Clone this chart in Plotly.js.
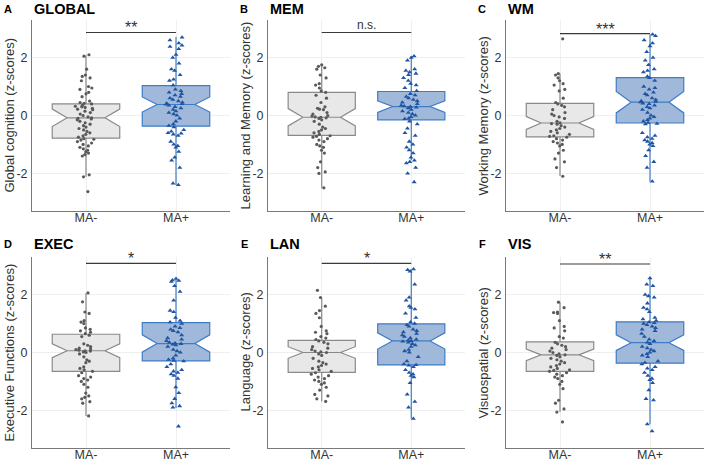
<!DOCTYPE html>
<html>
<head>
<meta charset="utf-8">
<script src="https://cdn.plot.ly/plotly-3.0.1.min.js"></script>
<style>html,body{margin:0;padding:0;background:#fff;}#chart{width:708px;height:463px;}</style>
</head>
<body>
<div id="chart"></div>
<script>
// ---------- DATA ----------
const groups = ['MA-', 'MA+'];
const panelLetters = ['A', 'B', 'C', 'D', 'E', 'F'];
const panelNames = ['GLOBAL', 'MEM', 'WM', 'EXEC', 'LAN', 'VIS'];
const yTitles = ['Global cognition (z-scores)', 'Learning and Memory (z-scores)', 'Working Memory (z-scores)',
                 'Executive Functions (z-scores)', 'Language (z-scores)', 'Visuospatial (z-scores)'];
const sigLabels = ['**', 'n.s.', '***', '*', '*', '**'];
const sigY = [2.87, 2.87, 2.83, 3.08, 3.08, 3.06];
const yTickVals = [-2, 0, 2];
const yTickText = ['-2', '0', '2'];

// box statistics, MA- group (per panel A..F)
const q1Neg      = [-0.78, -0.69, -0.74, -0.65, -0.69, -0.65];
const medianNeg  = [-0.08, -0.06, -0.26,  0.06,  0.00, -0.08];
const q3Neg      = [ 0.40,  0.80,  0.42,  0.63,  0.42,  0.37];
const lowNeg     = [-2.12, -2.51, -2.09, -2.19, -1.69, -2.06];
const highNeg    = [ 2.08,  1.77,  1.45,  2.06,  1.89,  1.74];
const notchNeg   = [ 0.30,  0.30,  0.22,  0.24,  0.20,  0.20];
// box statistics, MA+ group
const q1Pos      = [-0.37, -0.15, -0.26, -0.29, -0.43, -0.37];
const medianPos  = [ 0.38,  0.31,  0.46,  0.31,  0.40,  0.34];
const q3Pos      = [ 1.03,  0.83,  1.31,  1.03,  0.99,  1.06];
const lowPos     = [-2.40, -1.54, -2.29, -1.92, -2.29, -2.48];
const highPos    = [ 2.71,  2.06,  2.80,  2.51,  2.88,  2.57];
const notchPos   = [ 0.26,  0.20,  0.37,  0.30,  0.28,  0.27];

// individual z-scores
const globalNeg = [2.1, 2.05, 1.6, 1.4, 1.35, 1.3, 1.2, 1.0, 0.95, 0.9, 0.8, 0.75, 0.65, 0.5, 0.45, 0.42, 0.4, 0.35, 0.32, 0.3, 0.28, 0.25, 0.22, 0.2, 0.15, 0.1, 0.05, 0.0, -0.05, -0.08, -0.1, -0.12, -0.15, -0.2, -0.25, -0.3, -0.35, -0.4, -0.45, -0.5, -0.55, -0.6, -0.65, -0.7, -0.75, -0.8, -0.82, -0.85, -0.9, -0.95, -1.0, -1.05, -1.1, -1.15, -1.2, -1.25, -1.3, -1.35, -1.4, -2.05, -2.12, -2.63];
const globalPos = [2.7, 2.6, 2.5, 2.42, 2.38, 2.3, 2.1, 2.0, 1.8, 1.6, 1.55, 1.4, 1.25, 1.2, 1.05, 0.9, 0.85, 0.8, 0.75, 0.7, 0.65, 0.6, 0.55, 0.5, 0.45, 0.42, 0.4, 0.38, 0.35, 0.3, 0.25, 0.2, 0.15, 0.1, 0.05, 0.0, -0.1, -0.2, -0.3, -0.35, -0.4, -0.5, -0.55, -0.6, -0.62, -0.65, -0.7, -0.9, -1.0, -1.05, -1.1, -1.25, -1.45, -1.55, -1.8, -2.35, -2.4];
const memNeg = [1.75, 1.7, 1.65, 1.6, 1.4, 1.3, 1.1, 1.05, 0.95, 0.85, 0.8, 0.7, 0.6, 0.45, 0.3, 0.25, 0.22, 0.2, 0.1, 0.05, 0.0, -0.02, -0.05, -0.06, -0.08, -0.1, -0.15, -0.2, -0.3, -0.4, -0.45, -0.5, -0.55, -0.6, -0.65, -0.7, -0.72, -0.75, -0.8, -0.85, -0.9, -1.0, -1.05, -1.1, -1.2, -1.3, -1.6, -1.8, -1.95, -2.0, -2.5];
const memPos = [2.05, 2.0, 1.9, 1.6, 1.55, 1.5, 1.45, 1.4, 1.3, 1.2, 1.1, 1.05, 0.95, 0.85, 0.75, 0.7, 0.65, 0.6, 0.55, 0.5, 0.45, 0.4, 0.35, 0.32, 0.3, 0.28, 0.25, 0.2, 0.15, 0.1, 0.05, 0.0, -0.05, -0.1, -0.12, -0.2, -0.3, -0.45, -0.6, -0.7, -0.9, -1.0, -1.1, -1.2, -1.3, -1.45, -1.55, -1.6, -1.65, -1.8, -2.0, -2.3];
const wmNeg = [2.65, 1.45, 1.4, 1.3, 1.2, 1.1, 1.05, 0.9, 0.85, 0.6, 0.45, 0.4, 0.35, 0.3, 0.2, 0.1, 0.05, 0.0, -0.05, -0.1, -0.2, -0.25, -0.28, -0.3, -0.35, -0.4, -0.45, -0.5, -0.55, -0.6, -0.65, -0.7, -0.72, -0.75, -0.8, -0.85, -0.9, -0.95, -1.0, -1.05, -1.2, -1.3, -1.5, -1.6, -1.8, -2.1];
const wmPos = [2.8, 2.75, 2.6, 2.5, 2.4, 2.2, 2.0, 1.9, 1.75, 1.6, 1.55, 1.5, 1.35, 1.3, 1.2, 1.0, 0.95, 0.9, 0.8, 0.75, 0.7, 0.6, 0.55, 0.5, 0.48, 0.46, 0.42, 0.4, 0.35, 0.3, 0.25, 0.2, 0.1, 0.0, -0.05, -0.1, -0.15, -0.2, -0.25, -0.28, -0.3, -0.6, -0.7, -0.75, -0.8, -0.85, -0.9, -0.95, -1.0, -1.05, -1.2, -1.4, -1.6, -1.8, -2.28];
const execNeg = [2.06, 1.75, 1.4, 1.35, 1.1, 1.05, 1.0, 0.85, 0.8, 0.75, 0.7, 0.65, 0.6, 0.55, 0.3, 0.25, 0.2, 0.15, 0.12, 0.1, 0.08, 0.06, 0.05, 0.02, 0.0, -0.05, -0.15, -0.25, -0.3, -0.35, -0.5, -0.55, -0.6, -0.65, -0.7, -0.8, -0.85, -0.9, -0.95, -1.0, -1.1, -1.2, -1.4, -1.5, -1.55, -1.6, -1.7, -1.75, -2.19];
const execPos = [2.55, 2.5, 2.48, 2.45, 2.3, 2.1, 1.8, 1.45, 1.4, 1.2, 1.1, 1.05, 1.0, 0.9, 0.85, 0.8, 0.75, 0.7, 0.6, 0.5, 0.45, 0.4, 0.35, 0.32, 0.3, 0.28, 0.25, 0.2, 0.1, 0.05, 0.0, -0.1, -0.2, -0.25, -0.28, -0.3, -0.4, -0.5, -0.6, -0.65, -0.7, -0.75, -0.8, -0.9, -1.2, -1.4, -1.6, -1.75, -1.85, -1.9, -2.55];
const lanNeg = [2.15, 1.9, 1.6, 1.45, 1.35, 1.2, 0.9, 0.75, 0.7, 0.65, 0.55, 0.5, 0.45, 0.4, 0.35, 0.3, 0.2, 0.15, 0.1, 0.05, 0.02, 0.0, -0.05, -0.1, -0.2, -0.3, -0.35, -0.4, -0.45, -0.5, -0.55, -0.6, -0.65, -0.7, -0.75, -0.8, -0.85, -0.9, -0.95, -1.0, -1.05, -1.1, -1.2, -1.3, -1.45, -1.5, -1.6, -1.69];
const lanPos = [2.88, 2.85, 2.8, 2.35, 1.9, 1.8, 1.6, 1.55, 1.5, 1.35, 1.2, 1.05, 1.0, 0.95, 0.9, 0.8, 0.75, 0.7, 0.65, 0.6, 0.55, 0.5, 0.45, 0.42, 0.4, 0.38, 0.35, 0.3, 0.25, 0.2, 0.1, 0.05, 0.0, -0.15, -0.3, -0.4, -0.43, -0.45, -0.5, -0.6, -0.7, -0.75, -0.8, -0.85, -1.05, -1.45, -1.7, -1.9, -2.29];
const visNeg = [1.74, 1.55, 1.4, 1.38, 1.35, 1.1, 0.9, 0.85, 0.75, 0.55, 0.5, 0.35, 0.3, 0.25, 0.2, 0.15, 0.1, 0.05, 0.0, -0.05, -0.08, -0.1, -0.15, -0.2, -0.25, -0.3, -0.35, -0.4, -0.45, -0.5, -0.55, -0.6, -0.62, -0.65, -0.7, -0.75, -0.8, -0.85, -0.9, -1.0, -1.1, -1.25, -1.65, -1.75, -1.95, -2.06, -2.4];
const visPos = [2.57, 2.35, 2.3, 2.0, 1.95, 1.9, 1.7, 1.55, 1.5, 1.4, 1.2, 1.15, 1.1, 1.05, 1.02, 1.0, 0.95, 0.9, 0.85, 0.8, 0.75, 0.65, 0.55, 0.45, 0.4, 0.35, 0.3, 0.2, 0.15, 0.1, 0.05, 0.0, -0.05, -0.1, -0.15, -0.3, -0.35, -0.4, -0.5, -0.55, -0.6, -0.7, -0.8, -0.9, -0.95, -1.05, -1.3, -1.6, -1.65, -2.48, -2.72];

const pointsNeg = [globalNeg, memNeg, wmNeg, execNeg, lanNeg, visNeg];
const pointsPos = [globalPos, memPos, wmPos, execPos, lanPos, visPos];

// ---------- STYLE / LAYOUT ----------
const W = 708, H = 463;
const colPx = [[32, 230], [268, 465], [506, 704]];
const rowPx = [[20, 211], [257, 448]];
const titleRowPx = [8.5, 244];
const FONT = 'Liberation Sans, Arial, Helvetica, sans-serif';

const styleNeg = {fill: '#e8e8e8', line: '#8a8a8a', marker: '#5a5a5a', symbol: 'circle', size: 3.2};
const stylePos = {fill: '#a0b8d9', line: '#3f7cc6', marker: '#1f55a3', symbol: 'triangle-up', size: 4.4};

const data = [];
const layout = {
  width: W, height: H,
  margin: {l: 0, r: 0, t: 0, b: 0},
  paper_bgcolor: '#ffffff', plot_bgcolor: '#ffffff',
  showlegend: false,
  boxmode: 'overlay',
  font: {family: FONT, color: '#333333'},
  shapes: [], annotations: []
};

for (let i = 0; i < 6; i++) {
  const s = i === 0 ? '' : String(i + 1);
  const xa = 'x' + s, ya = 'y' + s;
  const col = i % 3, row = Math.floor(i / 3);
  const xd = [colPx[col][0] / W, colPx[col][1] / W];
  const yd = [1 - rowPx[row][1] / H, 1 - rowPx[row][0] / H];

  layout['xaxis' + s] = {
    domain: xd, anchor: ya, type: 'category', categoryarray: groups, categoryorder: 'array',
    range: [-0.6, 1.6], showline: true, linecolor: '#7a7a7a', linewidth: 1,
    showgrid: true, gridcolor: '#efefef', gridwidth: 1, zeroline: false,
    ticks: '', ticklabelstandoff: -5,
    tickfont: {size: 12.5, color: '#333333', family: FONT}, fixedrange: true
  };
  layout['yaxis' + s] = {
    domain: yd, anchor: xa, range: [-3.3, 3.3],
    tickmode: 'array', tickvals: yTickVals, ticktext: yTickText,
    showline: true, linecolor: '#7a7a7a', linewidth: 1,
    showgrid: true, gridcolor: '#efefef', gridwidth: 1, zeroline: false,
    ticks: '', ticklabelstandoff: 1,
    tickfont: {size: 12.5, color: '#333333', family: FONT}, fixedrange: true
  };

  const stats = [
    [q1Neg, medianNeg, q3Neg, lowNeg, highNeg, notchNeg, styleNeg, pointsNeg],
    [q1Pos, medianPos, q3Pos, lowPos, highPos, notchPos, stylePos, pointsPos]
  ];
  // boxes
  stats.forEach((st, g) => {
    data.push({
      type: 'box', xaxis: xa, yaxis: ya,
      x: [groups[g]], q1: [st[0][i]], median: [st[1][i]], q3: [st[2][i]],
      lowerfence: [st[3][i]], upperfence: [st[4][i]], notchspan: [st[5][i]],
      notched: true, notchwidth: 0.22, width: 0.75, whiskerwidth: 0,
      boxpoints: false, fillcolor: st[6].fill, line: {color: st[6].line, width: 1.2},
      hoverinfo: 'skip'
    });
  });
  // jittered points
  stats.forEach((st, g) => {
    const pts = st[7][i];
    data.push({
      type: 'box', xaxis: xa, yaxis: ya,
      x: pts.map(() => groups[g]), y: pts,
      width: 0.75, boxpoints: 'all', jitter: 0.32, pointpos: 0,
      fillcolor: 'rgba(0,0,0,0)', line: {color: 'rgba(0,0,0,0)', width: 0},
      marker: {color: st[6].marker, symbol: st[6].symbol, size: st[6].size, line: {width: 0}},
      hoverinfo: 'y'
    });
  });

  // significance bar
  layout.shapes.push({
    type: 'line', xref: xa, yref: ya, x0: 0, x1: 1, y0: sigY[i], y1: sigY[i],
    line: {color: '#3a3a3a', width: 1.1}
  });
  const isStar = sigLabels[i].indexOf('*') >= 0;
  layout.annotations.push({
    xref: xa, yref: ya, x: 0.5, y: sigY[i], yanchor: 'bottom', xanchor: 'center',
    text: sigLabels[i], showarrow: false, yshift: isStar ? -6 : -2,
    font: {size: isStar ? 16 : 12, color: '#333333', family: FONT}
  });

  // y-axis title
  layout.annotations.push({
    xref: 'paper', yref: 'paper', x: (colPx[col][0] - 23) / W, y: (yd[0] + yd[1]) / 2,
    xanchor: 'center', yanchor: 'middle', textangle: -90, showarrow: false,
    text: yTitles[i], font: {size: 13, color: '#333333', family: FONT}
  });
  // panel letter and name
  layout.annotations.push({
    xref: 'paper', yref: 'paper', x: (colPx[col][0] - 24) / W, y: 1 - titleRowPx[row] / H,
    xanchor: 'center', yanchor: 'middle', showarrow: false,
    text: '<b>' + panelLetters[i] + '</b>', font: {size: 11, color: '#000000', family: FONT}
  });
  layout.annotations.push({
    xref: 'paper', yref: 'paper', x: colPx[col][0] / W, y: 1 - titleRowPx[row] / H,
    xanchor: 'left', yanchor: 'middle', showarrow: false,
    text: '<b>' + panelNames[i] + '</b>', font: {size: 14.5, color: '#000000', family: FONT}
  });
}

Plotly.newPlot('chart', data, layout, {staticPlot: true, displayModeBar: false});
</script>
</body>
</html>
